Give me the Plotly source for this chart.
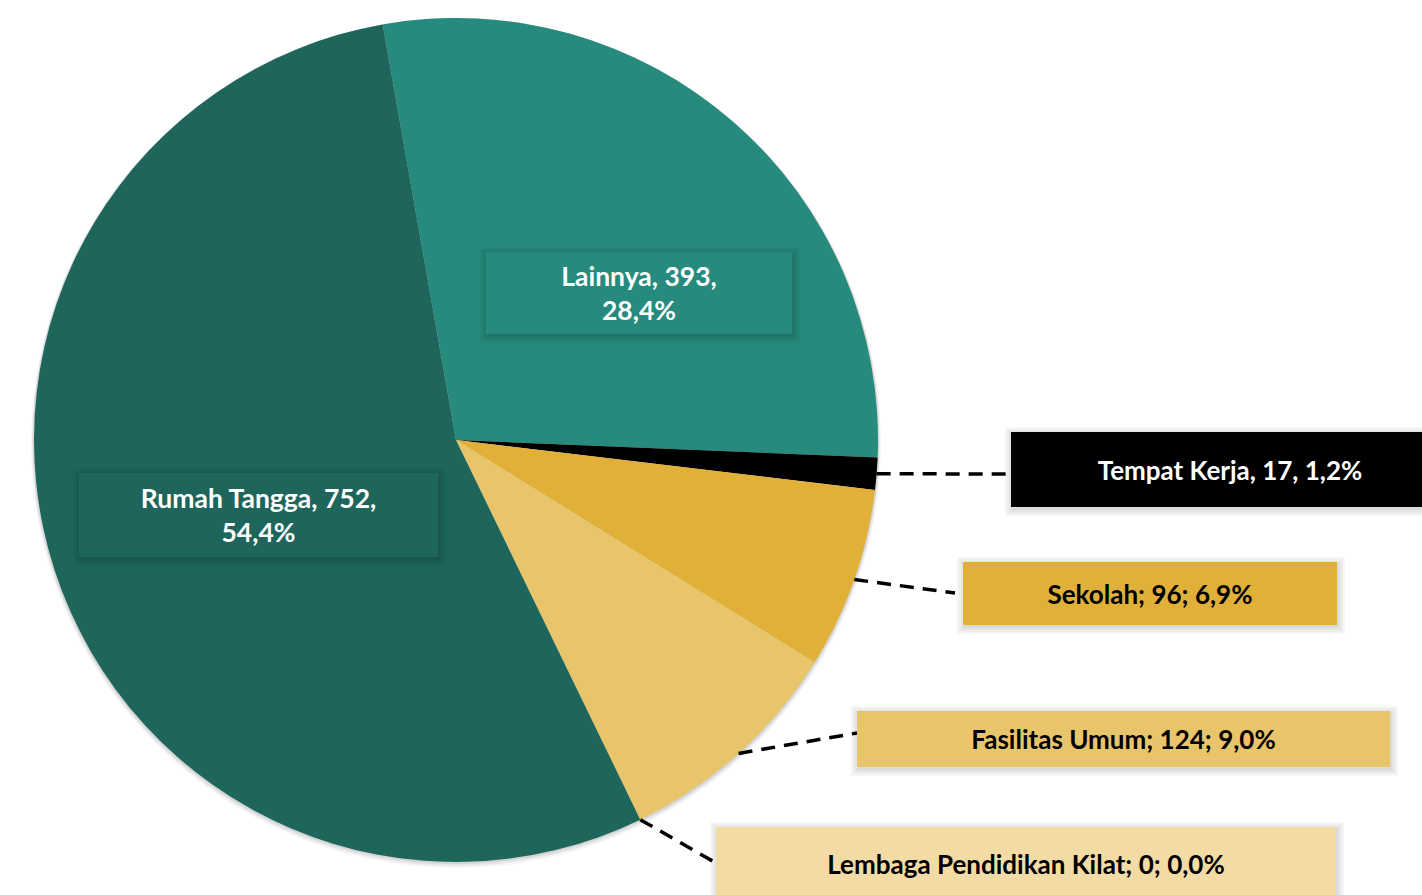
import math
import plotly.graph_objects as go

# ---- data ----
categories = ["Lainnya", "Tempat Kerja", "Sekolah", "Fasilitas Umum",
              "Lembaga Pendidikan Kilat", "Rumah Tangga"]
values = [393, 17, 96, 124, 0, 752]
colors = ["#268A7D", "#000000", "#E0B038", "#E8C56B", "#F2DBA5", "#1E665C"]
text_colors = ["#FFFFFF", "#FFFFFF", "#000000", "#000000", "#000000", "#FFFFFF"]
separators = [", ", ", ", "; ", "; ", "; ", ", "]

# ---- layout constants (pixels) ----
W, H = 1422, 895
CX, CY, R = 456, 440, 422
ROTATION = -10

# label boxes: (x0, y0, x1, y1) in pixels
boxes = [
    (486, 252, 792, 334),
    (1011, 432, 1449, 507),
    (963, 562, 1337, 625),
    (857, 711, 1390, 767),
    (716, 827, 1336, 901),
    (79, 473, 438, 557),
]
outside = [False, True, True, True, True, False]
leader_end = [None, (1008, 474), (955, 593), (857, 733), (716, 863), None]
font_sizes = [26.5, 26, 26, 26, 26, 26.5]

total = sum(values)


def px(x):
    return x / W


def py(y):
    return 1 - y / H


fig = go.Figure()
fig.add_trace(go.Pie(
    labels=categories,
    values=values,
    sort=False,
    direction="clockwise",
    rotation=ROTATION,
    marker=dict(colors=colors, line=dict(width=0)),
    textinfo="none",
    hoverinfo="label+value+percent",
    showlegend=False,
    domain=dict(x=[px(CX - R), px(CX + R)], y=[py(CY + R), py(CY - R)]),
))

shapes = []
# soft pie shadow
for off, op in [(6, 0.04), (4, 0.06), (2, 0.08)]:
    shapes.append(dict(type="circle", xref="paper", yref="paper", layer="below",
                       x0=px(CX - R - off / 2), x1=px(CX + R + off / 2),
                       y0=py(CY + R + off), y1=py(CY - R),
                       fillcolor=f"rgba(0,0,0,{op})", line=dict(width=0)))

annotations = []
cum = 0
for i, (cat, v) in enumerate(zip(categories, values)):
    pct = v / total * 100
    sep = separators[i]
    pct_s = f"{pct:.1f}".replace(".", ",") + "%"
    if outside[i]:
        txt = f"<b>{cat}{sep}{v}{sep}{pct_s}</b>"
    else:
        txt = f"<b>{cat}{sep}{v}{sep.strip()}<br>{pct_s}</b>"
    x0, y0, x1, y1 = boxes[i]
    # soft box shadow
    for g in [8, 6, 4, 2]:
        shapes.append(dict(type="rect", xref="paper", yref="paper", layer="above",
                           x0=px(x0 - g + 2), x1=px(x1 + g),
                           y0=py(y1 + g + 1), y1=py(y0 - g + 3),
                           fillcolor="rgba(0,0,0,0.035)", line=dict(width=0)))
    annotations.append(dict(
        xref="paper", yref="paper", x=px((x0 + x1) / 2), y=py((y0 + y1) / 2),
        xanchor="center", yanchor="middle", showarrow=False,
        width=x1 - x0, height=y1 - y0, borderpad=0, borderwidth=0,
        bgcolor=colors[i], align="center", valign="middle",
        text=txt, font=dict(family="Lato", size=font_sizes[i], color=text_colors[i]),
    ))
    if outside[i]:
        mid = ROTATION + (cum + v / 2) / total * 360
        a = math.radians(mid)
        sx = CX + R * math.sin(a)
        sy = CY - R * math.cos(a)
        ex, ey = leader_end[i]
        shapes.append(dict(type="line", xref="paper", yref="paper", layer="above",
                           x0=px(sx), y0=py(sy), x1=px(ex), y1=py(ey),
                           line=dict(color="#000000", width=3.5, dash="14px,9px")))
    cum += v

fig.update_layout(
    width=W, height=H,
    margin=dict(l=0, r=0, t=0, b=0),
    paper_bgcolor="#FFFFFF",
    plot_bgcolor="#FFFFFF",
    shapes=shapes,
    annotations=annotations,
)

fig.write_html(
    "out.html",
    config={"displayModeBar": False},
    post_script="document.body.style.margin='0';document.body.style.overflow='hidden';",
)
